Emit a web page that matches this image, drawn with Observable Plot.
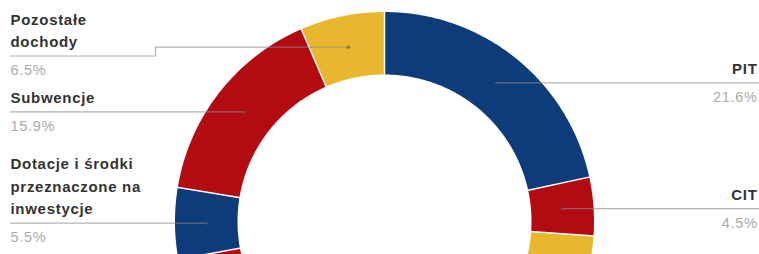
<!DOCTYPE html>
<html><head><meta charset="utf-8">
<script src="https://cdn.jsdelivr.net/npm/d3@7"></script>
<script src="https://cdn.jsdelivr.net/npm/@observablehq/plot@0.6"></script>
<style>
html,body{margin:0;padding:0;background:#fff;overflow:hidden}
#chart{width:759px;height:254px;overflow:hidden}
.lbl text{letter-spacing:0.7px}
.pct text{letter-spacing:0.7px}
</style></head><body><div id="chart"></div>
<script>
// Data (clockwise from 12 o'clock)
const categories = ["PIT", "CIT", "Podatki lokalne", "Dotacje celowe", "Dochody własne", "Dotacje i środki przeznaczone na inwestycje", "Subwencje", "Pozostałe dochody"];
const shares = [21.6, 4.5, 9.6, 22.4, 14.0, 5.5, 15.9, 6.5];
const percentLabels = ["21.6%", "4.5%", "9.6%", "22.4%", "14.0%", "5.5%", "15.9%", "6.5%"];
const labelLines = [["PIT"], ["CIT"], ["Podatki lokalne"], ["Dotacje celowe"], ["Dochody własne"], ["Dotacje i środki", "przeznaczone na", "inwestycje"], ["Subwencje"], ["Pozostałe", "dochody"]];
const palette = ["#0e3b79", "#b30b12", "#e8b72d", "#0e3b79", "#b30b12", "#0e3b79", "#b30b12", "#e8b72d"];

// Layout
const W = 759, H = 254;
const cx = 384, cy = 221, rOuter = 209.5, rInner = 147, rDot = 178;
const leftX = 10, rightX = 757, elbowX = 155, lineH = 22.5;
const deg = Math.PI / 180;
const total = d3.sum(shares);
let acc = 0;
const slices = categories.map((c, i) => {
  const a0 = acc / total * 360; acc += shares[i]; const a1 = acc / total * 360;
  return {c, i, a0, a1, mid: (a0 + a1) / 2};
});
const pt = (r, a) => [cx + r * Math.sin(a * deg), cy - r * Math.cos(a * deg)];

const ringPts = slices.flatMap(s => {
  const n = Math.max(2, Math.ceil((s.a1 - s.a0) / 0.5));
  const angs = d3.range(n + 1).map(k => s.a0 + (s.a1 - s.a0) * k / n);
  const poly = [...angs.map(a => pt(rOuter, a)), ...angs.slice().reverse().map(a => pt(rInner, a))];
  poly.push(poly[0]);
  return poly.map(([x, y]) => ({x, y, cat: s.c}));
});
const seps = slices.map(s => {
  const [x1, y1] = pt(rInner - 1, s.a0), [x2, y2] = pt(rOuter + 1, s.a0);
  return {x1, y1, x2, y2};
});

const leaders = [], dots = [], texts = [], pcts = [];
slices.forEach(s => {
  const [dx, dy] = pt(rDot, s.mid);
  const right = Math.sin(s.mid * deg) >= 0;
  const lines = labelLines[s.i];
  const n = lines.length;
  let ly = dy;
  if (!right) ly = Math.max(dy, 24 + 9 + (n - 1) * lineH);
  let path;
  if (right) path = [[dx, dy], [W, dy]];
  else if (ly !== dy) path = [[leftX, ly], [elbowX, ly], [elbowX, dy], [dx, dy]];
  else path = [[leftX, ly], [dx, dy]];
  path.forEach(([x, y]) => leaders.push({x, y, cat: s.c}));
  dots.push({x: dx, y: dy});
  const tx = right ? rightX : leftX, anchor = right ? "end" : "start";
  lines.forEach((t, k) => texts.push({x: tx, y: ly - 9 - (n - 1 - k) * lineH, t, anchor}));
  pcts.push({x: tx, y: ly + 19, t: percentLabels[s.i], anchor});
});
// only labels that fall inside the visible window (the others sit below the crop)
const visible = d => d.y - 12 < H;
const T = texts.filter(visible), P = pcts.filter(visible);

const textOpts = (fill, size, weight, cls) => ({x: "x", y: "y", text: "t", lineAnchor: "bottom", fill, fontSize: size, fontWeight: weight, fontFamily: "Liberation Sans, Arial, sans-serif", className: cls});

const chart = Plot.plot({
  width: W, height: H, margin: 0,
  x: {domain: [0, W], range: [0, W], axis: null},
  y: {domain: [0, H], range: [0, H], axis: null},
  color: {domain: categories, range: palette},
  style: {background: "#fff", overflow: "hidden"},
  marks: [
    Plot.line(ringPts, {x: "x", y: "y", z: "cat", fill: "cat", stroke: "none", curve: "linear"}),
    Plot.link(seps, {x1: "x1", y1: "y1", x2: "x2", y2: "y2", stroke: "#fff", strokeWidth: 1.5}),
    Plot.line(leaders, {x: "x", y: "y", z: "cat", stroke: "#8c8c8c", strokeOpacity: 0.65, strokeWidth: 1.2}),
    Plot.dot(dots, {x: "x", y: "y", r: 1.8, fill: "#555", fillOpacity: 0.6}),
    Plot.text(T.filter(d => d.anchor === "start"), {...textOpts("#333", 15, "bold", "lbl"), textAnchor: "start"}),
    Plot.text(T.filter(d => d.anchor === "end"), {...textOpts("#333", 15, "bold", "lbl"), textAnchor: "end"}),
    Plot.text(P.filter(d => d.anchor === "start"), {...textOpts("#aaa", 14.5, "normal", "pct"), textAnchor: "start"}),
    Plot.text(P.filter(d => d.anchor === "end"), {...textOpts("#aaa", 14.5, "normal", "pct"), textAnchor: "end"})
  ]
});
document.getElementById("chart").appendChild(chart);
</script></body></html>
